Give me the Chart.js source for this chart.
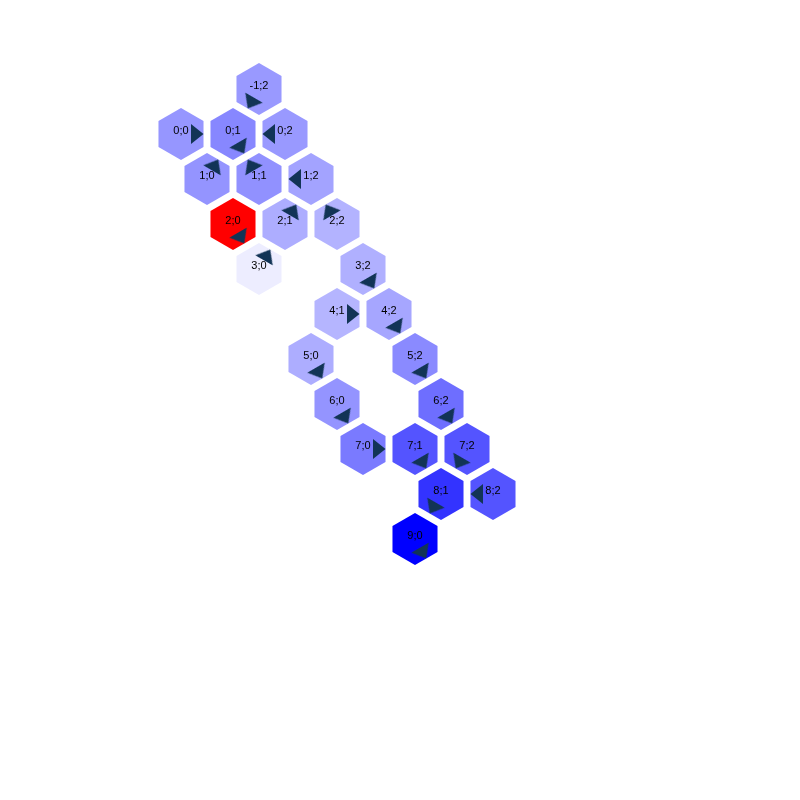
<!DOCTYPE html>
<html>
<head>
<meta charset="utf-8">
<title>Hex grid</title>
<script src="https://cdn.jsdelivr.net/npm/chart.js@4/dist/chart.umd.min.js"></script>
<style>
    html, body { margin: 0; padding: 0; background: #ffffff; }
    canvas { display: block; }
</style>
</head>
<body>
<canvas id="hexChart" width="800" height="800"></canvas>
<script>
// Cell coordinates (row;col) of the hex grid
const cellRows = [-1, 0, 0, 0, 1, 1, 1, 2, 2, 2, 3, 3, 4, 4, 5, 5, 6, 6, 7, 7, 7, 8, 8, 9];
const cellCols = [ 2, 0, 1, 2, 0, 1, 2, 0, 1, 2, 0, 2, 1, 2, 0, 2, 0, 2, 0, 1, 2, 1, 2, 0];

// Blue intensity of each cell (0 = white, 1 = full blue)
const cellValues = [0.40, 0.41, 0.47, 0.40, 0.42, 0.43, 0.36, 0.00, 0.32, 0.30, 0.07, 0.31,
                    0.29, 0.35, 0.32, 0.46, 0.42, 0.57, 0.52, 0.67, 0.67, 0.80, 0.67, 1.00];

// Arrow direction in each cell, degrees clockwise from "right"
const arrowAngles = [120, 0, 60, 180, 300, 240, 180, 60, 300, 240, 300, 60,
                     0, 60, 60, 60, 60, 60, 0, 60, 120, 120, 180, 60];

// Highlighted cell
const highlightedCells = ['2;0'];

const HEX_R = 26;

function cellLabel(i) {
    return cellRows[i] + ';' + cellCols[i];
}

function cellColor(i) {
    if (highlightedCells.includes(cellLabel(i))) return '#ff0000';
    const k = Math.round(255 * (1 - cellValues[i]));
    return 'rgb(' + k + ',' + k + ',255)';
}

// hexagon sprite (pointy top)
function makeHex(color) {
    const c = document.createElement('canvas');
    c.width = HEX_R * 2 + 2;
    c.height = HEX_R * 2 + 2;
    const g = c.getContext('2d');
    const cx = c.width / 2, cy = c.height / 2;
    g.beginPath();
    for (let k = 0; k < 6; k++) {
        const a = (Math.PI / 3) * k - Math.PI / 2;
        const px = cx + HEX_R * Math.cos(a);
        const py = cy + HEX_R * Math.sin(a);
        if (k === 0) g.moveTo(px, py); else g.lineTo(px, py);
    }
    g.closePath();
    g.fillStyle = color;
    g.fill();
    return c;
}

// arrow sprite, pointing right, offset from the cell centre
function makeArrow() {
    const c = document.createElement('canvas');
    c.width = 50;
    c.height = 50;
    const g = c.getContext('2d');
    g.beginPath();
    g.moveTo(25 + 22.5, 25);
    g.lineTo(25 + 10, 25 - 10);
    g.lineTo(25 + 10, 25 + 10);
    g.closePath();
    g.fillStyle = '#123456';
    g.fill();
    return c;
}

const hexImages = cellRows.map((r, i) => makeHex(cellColor(i)));
const arrowImage = makeArrow();

const points = cellRows.map((r, i) => ({ x: cellCols[i] + r / 2, y: r }));

const cellLabelsPlugin = {
    id: 'cellLabels',
    afterDatasetDraw(chart, args) {
        if (args.index !== 0) return;
        const ctx = chart.ctx;
        ctx.save();
        ctx.font = '11px "Liberation Sans", Arial, sans-serif';
        ctx.fillStyle = '#000000';
        ctx.textAlign = 'center';
        ctx.textBaseline = 'middle';
        args.meta.data.forEach((pt, i) => {
            ctx.fillText(cellLabel(i), pt.x, pt.y - 3);
        });
        ctx.restore();
    }
};

new Chart(document.getElementById('hexChart'), {
    type: 'scatter',
    data: {
        datasets: [{
            label: 'cells',
            data: points,
            order: 2,
            pointStyle: ctx => hexImages[ctx.dataIndex],
            pointRadius: 20,
            pointHoverRadius: 20
        }, {
            label: 'arrows',
            data: points,
            order: 1,
            pointStyle: arrowImage,
            pointRotation: arrowAngles,
            pointRadius: 10,
            pointHoverRadius: 10
        }]
    },
    options: {
        responsive: false,
        animation: false,
        layout: { padding: 0, autoPadding: false },
        plugins: {
            legend: { display: false },
            tooltip: { enabled: false }
        },
        events: [],
        scales: {
            x: {
                type: 'linear',
                display: false,
                min: -181 / 52,
                max: (800 - 181) / 52
            },
            y: {
                type: 'linear',
                display: false,
                reverse: true,
                min: -134 / 45,
                max: 666 / 45
            }
        }
    },
    plugins: [cellLabelsPlugin]
});
</script>
</body>
</html>
